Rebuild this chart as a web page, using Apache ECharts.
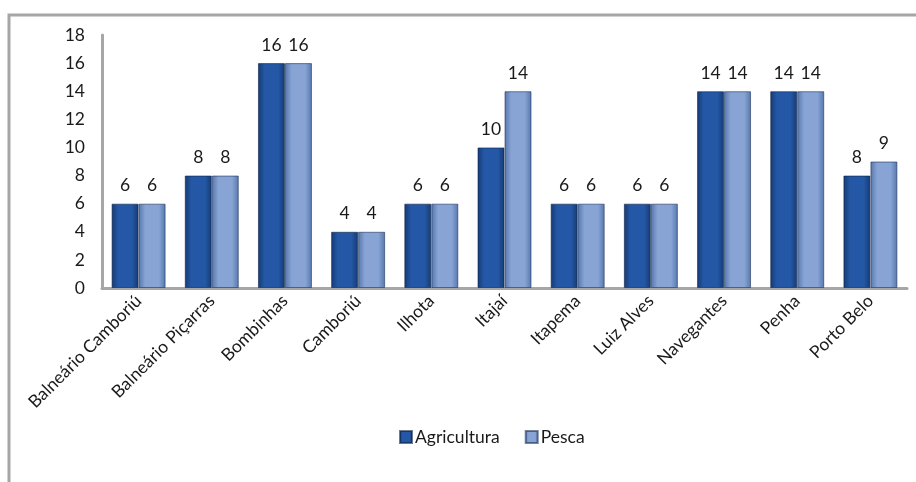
<!DOCTYPE html>
<html>
<head>
<meta charset="utf-8">
<script src="https://cdn.jsdelivr.net/npm/echarts@6/dist/echarts.min.js"></script>
<style>html,body{margin:0;padding:0;background:#fff;}#c{width:916px;height:482px;}</style>
</head>
<body>
<div id="c"></div>
<script>
const categories = ["Balneário Camboriú","Balneário Piçarras","Bombinhas","Camboriú","Ilhota","Itajaí","Itapema","Luiz Alves","Navegantes","Penha","Porto Belo"];
const agricultura = [6,8,16,4,6,10,6,6,14,14,8];
const pesca = [6,8,16,4,6,14,6,6,14,14,9];
const seriesNames = ["Agricultura","Pesca"];
const yTicks = {min:0,max:18,interval:2};

const FONT = "Lato, 'Open Sans', sans-serif";
function grad(edge, mid) {
  return new echarts.graphic.LinearGradient(0,0,1,0,[
    {offset:0,color:edge},{offset:0.25,color:mid},{offset:0.75,color:mid},{offset:1,color:edge}
  ]);
}
const chart = echarts.init(document.getElementById('c'), null, {renderer:'canvas'});
const lbl = {show:true, position:'top', distance:9, color:'#1a1a1a', fontFamily:FONT, fontSize:17.5};
chart.setOption({
  animation:false,
  backgroundColor:'#ffffff',
  textStyle:{fontFamily:FONT},
  graphic:[{type:'polyline', shape:{points:[[9,482],[9,15],[916,15]]}, style:{stroke:'#a6a6a6', lineWidth:3, fill:null}}],
  grid:{left:102, right:9, top:35, bottom:194, containLabel:false},
  legend:{
    data:seriesNames, bottom:31, left:394, itemWidth:12, itemHeight:12, itemGap:25,
    icon:'rect', textStyle:{fontFamily:FONT, fontSize:17.5, color:'#1a1a1a', padding:[0,0,0,-2]}
  },
  xAxis:{
    type:'category', data:categories,
    axisLine:{lineStyle:{color:'#a6a6a6', width:3}},
    axisTick:{show:false},
    axisLabel:{rotate:45, interval:0, margin:10, fontFamily:FONT, fontSize:17.5, color:'#1a1a1a'}
  },
  yAxis:{
    type:'value', min:yTicks.min, max:yTicks.max, interval:yTicks.interval,
    axisLine:{show:true, lineStyle:{color:'#a6a6a6', width:3}},
    axisTick:{show:false},
    splitLine:{show:false},
    axisLabel:{margin:17, fontFamily:FONT, fontSize:17.5, color:'#1a1a1a'}
  },
  series:[
    {name:seriesNames[0], type:'bar', data:agricultura, barWidth:27, barGap:'0%',
     itemStyle:{color:grad('#153a74','#2458a6'), borderColor:'rgba(15,35,70,0.6)', borderWidth:1},
     label:lbl},
    {name:seriesNames[1], type:'bar', data:pesca, barWidth:27, barGap:'0%',
     itemStyle:{color:grad('#5676ad','#87a4d4'), borderColor:'rgba(30,50,90,0.6)', borderWidth:1},
     label:lbl}
  ]
});
</script>
</body>
</html>
